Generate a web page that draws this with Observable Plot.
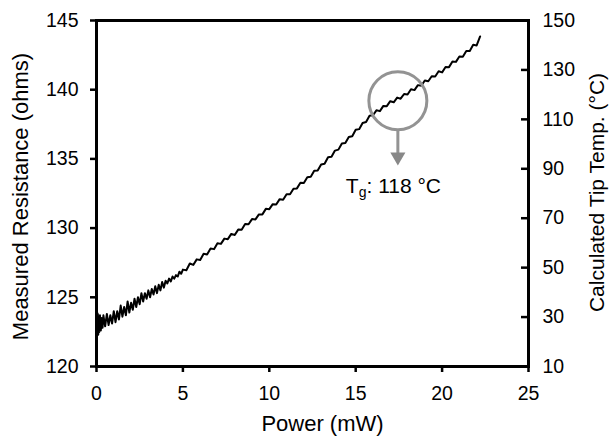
<!DOCTYPE html>
<html>
<head>
<meta charset="utf-8">
<script src="https://cdn.jsdelivr.net/npm/d3@7"></script>
<script src="https://cdn.jsdelivr.net/npm/@observablehq/plot@0.6"></script>
<style>
  html, body { margin: 0; padding: 0; background: white; }
</style>
</head>
<body>
<div id="chart"></div>
<script>
// Measured trace: power (mW) and resistance (ohms)
const power = [
  0.00, 0.02, 0.04, 0.06, 0.08, 0.10, 0.13, 0.16, 0.20, 0.25, 0.30, 0.35, 0.40,
  0.5, 0.6, 0.7, 0.8, 0.9, 1.0, 1.1, 1.2, 1.3, 1.4, 1.5, 1.6, 1.7, 1.8, 1.9, 2.0,
  2.1, 2.2, 2.3, 2.4, 2.5, 2.6, 2.7, 2.8, 2.9, 3.0, 3.1, 3.2, 3.3, 3.4, 3.5, 3.6,
  3.7, 3.8, 3.9, 4.0, 4.1, 4.2, 4.3, 4.4, 4.5, 4.6, 4.7, 4.8, 4.9, 5.0,
  5.2, 5.4, 5.6, 5.8, 6.0,
  6.2, 6.4, 6.6, 6.8, 7.0, 7.2, 7.4, 7.6, 7.8, 8.0, 8.2, 8.4, 8.6, 8.8, 9.0,
  9.2, 9.4, 9.6, 9.8, 10.0, 10.2, 10.4, 10.6, 10.8, 11.0, 11.2, 11.4, 11.6, 11.8,
  12.0, 12.2, 12.4, 12.6, 12.8, 13.0, 13.2, 13.4, 13.6, 13.8, 14.0, 14.2, 14.4,
  14.6, 14.8, 15.0, 15.2, 15.4, 15.6, 15.8, 16.0, 16.2, 16.4, 16.6, 16.8, 17.0,
  17.2, 17.4, 17.6, 17.8, 18.0, 18.2, 18.4, 18.6, 18.8, 19.0, 19.2, 19.4, 19.6,
  19.8, 20.0, 20.2, 20.4, 20.6, 20.8, 21.0, 21.2, 21.4, 21.6, 21.8, 22.0, 22.2
];
const resistance = [
  124.0, 122.2, 123.9, 122.4, 123.8, 122.3, 123.6, 122.5, 123.7, 122.6, 123.5, 122.8, 123.7,
  122.9, 123.8, 123.0, 123.7, 123.1, 124.0, 123.2, 124.0, 123.4, 124.4, 123.6, 124.3, 123.7, 124.7, 123.9, 124.6,
  124.1, 124.9, 124.3, 125.0, 124.5, 125.3, 124.7, 125.3, 124.9, 125.5, 125.0, 125.6, 125.2, 125.8, 125.3, 125.9,
  125.5, 126.1, 125.7, 126.2, 126.0, 126.35, 126.15, 126.5, 126.35, 126.6, 126.5, 126.85, 126.7, 127.0,
  126.96, 127.44, 127.34, 127.74, 127.70,
  128.15, 128.10, 128.52, 128.48, 128.90, 128.86, 129.24, 129.20, 129.58, 129.50, 129.89, 129.88, 130.29, 130.28, 130.65,
  130.63, 130.99, 130.99, 131.39, 131.37, 131.73, 131.71, 132.09, 132.05, 132.45, 132.45, 132.85, 132.87, 133.27,
  133.25, 133.68, 133.71, 134.14, 134.17, 134.60, 134.65, 135.12, 135.15, 135.60, 135.67, 136.12, 136.15,
  136.58, 136.63, 137.10, 137.15, 137.60, 137.67, 138.12, 138.15, 138.51, 138.45, 138.83, 138.81, 139.17,
  139.09, 139.43, 139.35, 139.69, 139.65, 140.03, 139.97, 140.33, 140.29, 140.67, 140.61, 140.97, 140.95,
  141.33, 141.25, 141.64, 141.63, 142.04, 142.01, 142.40, 142.38, 142.80, 142.80, 143.24, 143.20, 143.85
];

// Axis tick labels
const xTicks = [0, 5, 10, 15, 20, 25];
const leftTicks = [120, 125, 130, 135, 140, 145];
const rightTicks = [10, 30, 50, 70, 90, 110, 130, 150];

// Right axis: temperature spans 10..150 over the same height as 120..145 ohms
const resDomain = [120, 145];
const tempDomain = [10, 150];
const toRes = t => resDomain[0] + (t - tempDomain[0]) * (resDomain[1] - resDomain[0]) / (tempDomain[1] - tempDomain[0]);
const toTemp = r => tempDomain[0] + (r - resDomain[0]) * (tempDomain[1] - tempDomain[0]) / (resDomain[1] - resDomain[0]);

// Glass transition annotation
const tgLabel = ": 118 °C";
const tg = [{power: 17.44, resistance: 139.2, arrowFrom: 137.1, arrowTo: 135.39}];

const data = power.map((p, i) => ({power: p, resistance: resistance[i]}));

const downTriangle = {
  draw(context, size) {
    const s = Math.sqrt(size / (Math.sqrt(3) / 4));
    const h = s * Math.sqrt(3) / 2;
    context.moveTo(-s / 2, -h / 3);
    context.lineTo(s / 2, -h / 3);
    context.lineTo(0, 2 * h / 3);
    context.closePath();
  }
};

const W = 611, H = 437, mL = 96, mR = 83, mT = 20, mB = 71;
const grey = "#939393";

const chart = Plot.plot({
  width: W,
  height: H,
  marginLeft: mL,
  marginRight: mR,
  marginTop: mT,
  marginBottom: mB,
  x: {domain: [0, 25]},
  y: {domain: resDomain},
  style: {
    fontFamily: "'Liberation Sans', Arial, Helvetica, sans-serif",
    fontSize: "19.5px",
    color: "black",
    background: "white"
  },
  marks: [
    Plot.line(data, {x: "power", y: "resistance", stroke: "black", strokeWidth: 2}),
    Plot.frame({stroke: "black", strokeWidth: 3}),
    Plot.axisX({ticks: xTicks, tickSize: 6, tickPadding: 14, strokeWidth: 2.5, label: null, tickFormat: d => String(d)}),
    Plot.axisY({anchor: "left", ticks: leftTicks, tickSize: 6, tickPadding: 12, strokeWidth: 2.5, label: null, tickFormat: d => String(d)}),
    Plot.axisY({anchor: "right", ticks: rightTicks.map(toRes), tickSize: 0, tickPadding: 14, label: null,
      tickFormat: r => String(Math.round(toTemp(r)))}),
    Plot.ruleY(rightTicks.map(toRes), {stroke: "black", strokeWidth: 2.5, insetLeft: (W - mL - mR) - 7, insetRight: -2}),
    // axis titles
    Plot.text(["Measured Resistance (ohms)"], {text: d => d, frameAnchor: "left", textAnchor: "middle", lineAnchor: "middle", rotate: -90, dx: -76, dy: 3, fontSize: 22}),
    Plot.text(["Calculated Tip Temp. (°C)"], {text: d => d, frameAnchor: "right", textAnchor: "middle", lineAnchor: "middle", rotate: -90, dx: 69, dy: -1, fontSize: 21}),
    Plot.text(["Power (mW)"], {text: d => d, frameAnchor: "bottom", textAnchor: "middle", lineAnchor: "middle", dx: 10, dy: 57, fontSize: 22}),
    // Tg annotation
    Plot.dot(tg, {x: "power", y: "resistance", r: 29, stroke: grey, strokeWidth: 3, fill: "none"}),
    Plot.ruleX(tg, {x: "power", y1: "arrowFrom", y2: "arrowTo", stroke: grey, strokeWidth: 3}),
    Plot.dot(tg, {x: "power", y: "arrowTo", symbol: downTriangle, r: 5.6, fill: "#888", stroke: "none", dy: 3.3}),
    Plot.text(tg, {x: "power", y: "resistance", text: () => "T", textAnchor: "start", dx: -52, dy: 85, fontSize: 21}),
    Plot.text(tg, {x: "power", y: "resistance", text: () => "g", textAnchor: "start", dx: -39.2, dy: 91.5, fontSize: 14}),
    Plot.text(tg, {x: "power", y: "resistance", text: () => tgLabel, textAnchor: "start", dx: -31.4, dy: 85, fontSize: 21})
  ]
});

document.getElementById("chart").appendChild(chart);
</script>
</body>
</html>
